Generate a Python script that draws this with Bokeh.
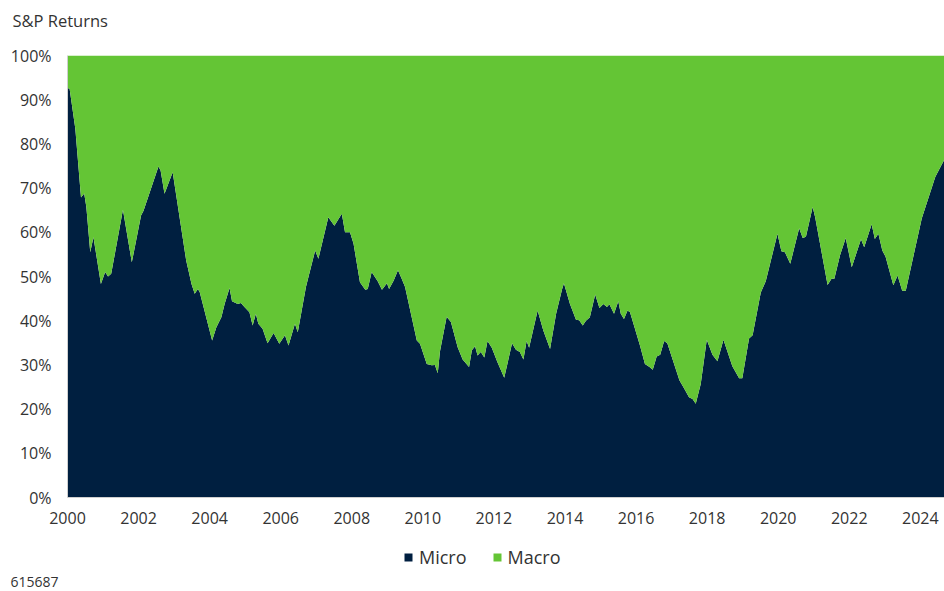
from bokeh.plotting import figure
from bokeh.layouts import column
from bokeh.models import (Range1d, FixedTicker, PrintfTickFormatter, Legend,
                          LegendItem, ColumnDataSource, Label)
from bokeh.embed import file_html
from bokeh.resources import INLINE

# Decimal years and Micro share of S&P returns (%); Macro is the remainder to 100%
years = [
    2000.00, 2000.06, 2000.22, 2000.38, 2000.47, 2000.53, 2000.64, 2000.73, 2000.94, 2001.06,
    2001.14, 2001.23, 2001.56, 2001.81, 2002.07, 2002.14, 2002.56, 2002.62, 2002.73, 2002.96,
    2003.34, 2003.49, 2003.58, 2003.67, 2003.72, 2004.07, 2004.19, 2004.33, 2004.42, 2004.56,
    2004.63, 2004.79, 2004.88, 2004.98, 2005.12, 2005.21, 2005.30, 2005.37, 2005.49, 2005.63,
    2005.80, 2005.96, 2006.12, 2006.22, 2006.40, 2006.48, 2006.71, 2006.97, 2007.06, 2007.34,
    2007.51, 2007.72, 2007.81, 2007.95, 2008.05, 2008.23, 2008.38, 2008.45, 2008.56, 2008.73,
    2008.85, 2008.99, 2009.05, 2009.18, 2009.30, 2009.39, 2009.50, 2009.83, 2009.92, 2010.11,
    2010.25, 2010.34, 2010.42, 2010.48, 2010.67, 2010.79, 2010.98, 2011.12, 2011.30, 2011.38,
    2011.47, 2011.54, 2011.63, 2011.73, 2011.82, 2011.94, 2012.10, 2012.29, 2012.39, 2012.51,
    2012.62, 2012.73, 2012.83, 2012.92, 2012.99, 2013.23, 2013.39, 2013.58, 2013.75, 2013.92,
    2013.97, 2014.14, 2014.31, 2014.40, 2014.50, 2014.59, 2014.70, 2014.85, 2014.97, 2015.08,
    2015.18, 2015.25, 2015.38, 2015.50, 2015.57, 2015.66, 2015.76, 2015.83, 2016.11, 2016.25,
    2016.38, 2016.47, 2016.58, 2016.68, 2016.79, 2016.88, 2017.22, 2017.35, 2017.49, 2017.59,
    2017.68, 2017.82, 2017.99, 2018.15, 2018.29, 2018.46, 2018.71, 2018.90, 2018.99, 2019.18,
    2019.28, 2019.51, 2019.65, 2019.98, 2020.09, 2020.19, 2020.34, 2020.59, 2020.69, 2020.78,
    2020.97, 2021.04, 2021.39, 2021.50, 2021.58, 2021.74, 2021.90, 2022.07, 2022.33, 2022.42,
    2022.63, 2022.72, 2022.82, 2022.93, 2023.02, 2023.24, 2023.36, 2023.49, 2023.59, 2024.04,
    2024.42, 2024.68,
]
micro = [
    92.7, 92.4, 83.4, 67.9, 68.8, 65.7, 55.5, 58.9, 48.3, 51.0,
    50.0, 50.6, 65.1, 53.2, 63.8, 64.9, 74.9, 74.0, 68.7, 73.6,
    53.6, 48.3, 46.1, 47.2, 46.5, 35.5, 38.5, 40.8, 43.7, 47.4,
    44.4, 43.8, 44.0, 43.1, 41.9, 38.9, 41.6, 39.3, 38.2, 34.9,
    37.2, 34.8, 36.7, 34.4, 39.3, 37.4, 47.6, 55.9, 54.0, 63.4,
    61.5, 64.2, 60.0, 60.0, 57.4, 48.7, 47.0, 47.2, 51.0, 48.9,
    47.0, 48.5, 47.2, 49.1, 51.4, 49.8, 47.6, 35.5, 34.8, 30.2,
    29.9, 30.0, 28.1, 33.0, 40.9, 39.7, 34.0, 31.2, 29.5, 33.3,
    34.2, 32.1, 32.9, 31.7, 35.4, 33.9, 30.6, 27.1, 30.6, 34.9,
    33.4, 32.9, 31.2, 35.4, 33.9, 42.3, 37.8, 33.6, 41.6, 47.2,
    48.5, 43.8, 40.2, 40.1, 38.9, 40.0, 40.8, 45.9, 42.9, 43.8,
    43.1, 43.7, 41.6, 44.4, 41.6, 40.4, 42.3, 41.9, 34.4, 30.2,
    29.5, 28.9, 31.9, 32.3, 35.4, 34.9, 26.5, 24.7, 22.7, 22.3,
    21.2, 25.7, 35.7, 32.3, 30.8, 35.7, 29.7, 27.0, 27.0, 36.0,
    36.7, 46.4, 48.9, 59.7, 55.7, 55.5, 52.9, 60.9, 58.7, 59.0,
    65.7, 63.4, 48.1, 49.5, 49.5, 54.8, 58.7, 52.1, 58.4, 56.6,
    61.8, 58.5, 59.7, 55.9, 54.5, 48.0, 50.2, 46.8, 46.8, 63.1,
    72.5, 76.5,
]
macro = [round(100 - v, 1) for v in micro]

series_names = ["Micro", "Macro"]
x_ticks = list(range(2000, 2025, 2))
y_ticks = list(range(0, 101, 10))

NAVY = "#001F40"
GREEN = "#64C535"
TEXT = "#333333"
FONT = "Open Sans"

src = ColumnDataSource(dict(year=years, micro=micro, macro=macro))


def strip(height):
    s = figure(width=944, height=height, output_backend="svg", toolbar_location=None,
               x_range=Range1d(0, 1), y_range=Range1d(0, 1), title=None,
               x_axis_type=None, y_axis_type=None, min_border=0,
               outline_line_color=None, background_fill_color="white",
               border_fill_color="white")
    s.frame_align = False
    return s


# ---- title strip ----
p0 = strip(43)
p0.add_layout(Label(x=12, y=23, x_units="screen", y_units="screen", text="S&P Returns",
                    text_baseline="middle", text_font=FONT, text_font_size="16.5px",
                    text_color=TEXT))

# ---- main chart ----
p = figure(width=944, height=492, output_backend="svg", toolbar_location=None,
           x_range=Range1d(years[0], years[-1]), y_range=Range1d(0, 100), title=None,
           min_border_left=67, min_border_right=0, min_border_top=12,
           min_border_bottom=38, background_fill_color="white",
           border_fill_color="white", outline_line_color=None)

p.varea_stack(["micro", "macro"], x="year", color=[NAVY, GREEN], source=src)

p.xgrid.visible = False
p.ygrid.visible = False

p.xaxis.ticker = FixedTicker(ticks=x_ticks)
p.xaxis.formatter = PrintfTickFormatter(format="%d")
p.yaxis.ticker = FixedTicker(ticks=y_ticks)
p.yaxis.formatter = PrintfTickFormatter(format="%d%%")
for ax in (p.xaxis, p.yaxis):
    ax.major_tick_line_color = None
    ax.minor_tick_line_color = None
    ax.axis_line_color = "#cfcfcf"
    ax.major_label_text_font = FONT
    ax.major_label_text_font_size = "16px"
    ax.major_label_text_color = TEXT
p.xaxis.major_label_standoff = 8
p.yaxis.major_label_standoff = 10

# ---- legend + source note strip ----
p2 = strip(56)
# same series, outside this strip's range, only used for the legend swatches
rs = p2.varea_stack(["micro", "macro"], x="year", color=[NAVY, GREEN], source=src)

legend = Legend(items=[LegendItem(label=series_names[0], renderers=[rs[0]]),
                       LegendItem(label=series_names[1], renderers=[rs[1]])],
                orientation="horizontal", location=(403, 22),
                border_line_color=None, background_fill_alpha=0,
                label_text_font=FONT, label_text_font_size="18px",
                label_text_color=TEXT, glyph_width=10, glyph_height=10,
                label_standoff=6, spacing=25, margin=0, padding=4)
p2.add_layout(legend)

p2.add_layout(Label(x=10, y=10, x_units="screen", y_units="screen", text="615687",
                    text_baseline="middle", text_font=FONT, text_font_size="14px",
                    text_color=TEXT))

open("out.html", "w").write(file_html(column(p0, p, p2, spacing=0), INLINE))
